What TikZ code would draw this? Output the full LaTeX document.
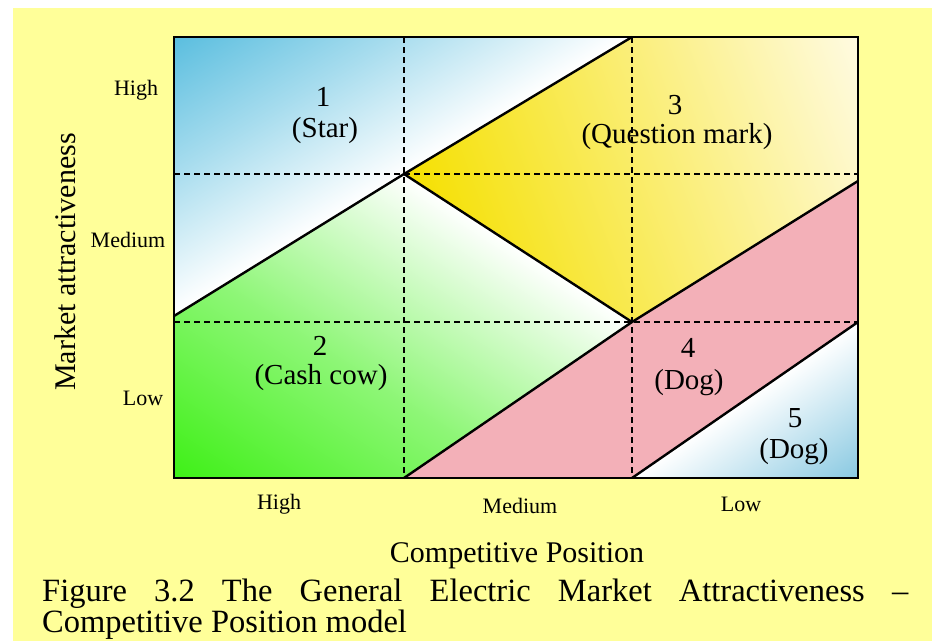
\documentclass[tikz,border=0pt]{standalone}
\usepackage{fontspec}
\setmainfont{Liberation Serif}
\usetikzlibrary{calc}
\definecolor{bgyellow}{RGB}{255,255,153}
\definecolor{starblue}{RGB}{85,188,222}
\definecolor{cowgreen}{RGB}{60,240,20}
\definecolor{qgold}{RGB}{245,224,0}
\definecolor{qcream}{RGB}{255,251,228}
\definecolor{dogpink}{RGB}{243,176,184}
\definecolor{dogblue}{RGB}{135,200,225}
\tikzset{
  frameline/.style={line width=2.8pt},
  diagline/.style={line width=2.4pt, line cap=round},
  gridline/.style={line width=2.1pt, dash pattern=on 6pt off 4pt},
  quadtext/.style={font=\fontsize{29}{33}\selectfont, inner sep=0pt, anchor=base},
  ticktext/.style={font=\fontsize{22}{26}\selectfont, inner sep=0pt, anchor=base},
  axistext/.style={font=\fontsize{30}{34}\selectfont, inner sep=0pt, anchor=base},
  captext/.style={font=\fontsize{32.5}{36}\selectfont, inner sep=0pt, anchor=base west},
}
\begin{document}
\begin{tikzpicture}[x=1pt,y=-1pt]
\useasboundingbox (0,0) rectangle (932,641);
\fill[white] (0,0) rectangle (932,641);
\fill[bgyellow] (13,8) rectangle (932,641);
% grid points
\coordinate (p00) at (174,37);
\coordinate (p10) at (404,37);
\coordinate (p20) at (632,37);
\coordinate (p30) at (858,37);
\coordinate (p01) at (174,174);
\coordinate (p11) at (404,174);
\coordinate (p31) at (858,174);
\coordinate (pL)  at (174,316);
\coordinate (p02) at (174,322);
\coordinate (p22) at (632,322);
\coordinate (p32) at (858,322);
\coordinate (pR)  at (858,181);
\coordinate (p03) at (174,478);
\coordinate (p13) at (404,478);
\coordinate (p23) at (632,478);
\coordinate (p33) at (858,478);
% region 1 (Star)
\fill[white] (p00) -- (p20) -- (p11) -- (pL) -- cycle;
\begin{scope}
  \clip (p00) -- (p20) -- (p11) -- (pL) -- cycle;
  \begin{scope}[transform canvas={rotate around={31.5:(p11)}}]
    \shade[top color=starblue, bottom color=white, middle color=starblue!52!white] ($(p11)+(-800,-245)$) rectangle ($(p11)+(800,0)$);
  \end{scope}
\end{scope}
% region 2 (Cash cow)
\fill[white] (pL) -- (p11) -- (p22) -- (p13) -- (p03) -- cycle;
\begin{scope}
  \clip (pL) -- (p11) -- (p22) -- (p13) -- (p03) -- cycle;
  \begin{scope}[transform canvas={rotate around={-33:(p11)}}]
    \shade[top color=white, bottom color=cowgreen, middle color=cowgreen!58!white] ($(p11)+(-800,0)$) rectangle ($(p11)+(800,385)$);
  \end{scope}
\end{scope}
% region 3 (Question mark)
\fill[qgold] (p11) -- (p20) -- (p30) -- (pR) -- (p22) -- cycle;
\begin{scope}
  \clip (p11) -- (p20) -- (p30) -- (pR) -- (p22) -- cycle;
  \begin{scope}[transform canvas={rotate around={20:(p11)}}]
    \shade[left color=qgold, right color=qcream] ($(p11)+(0,-500)$) rectangle ($(p11)+(480,500)$);
  \end{scope}
\end{scope}
% region 4 (Dog)
\fill[dogpink] (p13) -- (p22) -- (pR) -- (p32) -- (p23) -- cycle;
% region 5 (Dog)
\fill[white] (p23) -- (p32) -- (p33) -- cycle;
\begin{scope}
  \clip (p23) -- (p32) -- (p33) -- cycle;
  \begin{scope}[transform canvas={rotate around={34.6:(p23)}}]
    \shade[top color=white, bottom color=dogblue] ($(p23)+(-500,0)$) rectangle ($(p23)+(500,130)$);
  \end{scope}
\end{scope}
% dashed grid
\draw[gridline] (p01) -- (p31);
\draw[gridline] (p02) -- (p32);
\draw[gridline] (p10) -- (p13);
\draw[gridline] (p20) -- (p23);
% boundaries
\draw[diagline] (pL) -- (p11) -- (p20);
\draw[diagline] (p11) -- (p22);
\draw[diagline] (p13) -- (p22) -- (pR);
\draw[diagline] (p23) -- (p32);
\draw[frameline] (p00) rectangle (p33);
% quadrant labels
\node[quadtext] (n1)  at (323,106) {1};
\node[quadtext] (t1)  at (325,137) {(Star)};
\node[quadtext] (n3)  at (675,114) {3};
\node[quadtext] (t3)  at (677,143) {(Question mark)};
\node[quadtext] (n2)  at (320,355) {2};
\node[quadtext] (t2)  at (321,384) {(Cash cow)};
\node[quadtext] (n4)  at (688,357) {4};
\node[quadtext] (t4)  at (689,389) {(Dog)};
\node[quadtext] (n5)  at (795,427) {5};
\node[quadtext] (t5)  at (794,458) {(Dog)};
% axis tick labels
\node[ticktext] (yh) at (136,95)  {High};
\node[ticktext] (ym) at (128,247) {Medium};
\node[ticktext] (yl) at (143,405) {Low};
\node[ticktext] (xh) at (279,509) {High};
\node[ticktext] (xm) at (520,513) {Medium};
\node[ticktext] (xl) at (741,511) {Low};
% axis titles
\node[axistext, rotate=90] (ytitle) at (75,262) {Market attractiveness};
\node[axistext] (xtitle) at (517,562) {Competitive Position};
% caption
\node[captext] (cap1) at (42,601) {\makebox[866pt][s]{Figure 3.2 The General Electric Market Attractiveness –}};
\node[captext] (cap2) at (42,632) {Competitive Position model};
\end{tikzpicture}
\end{document}
